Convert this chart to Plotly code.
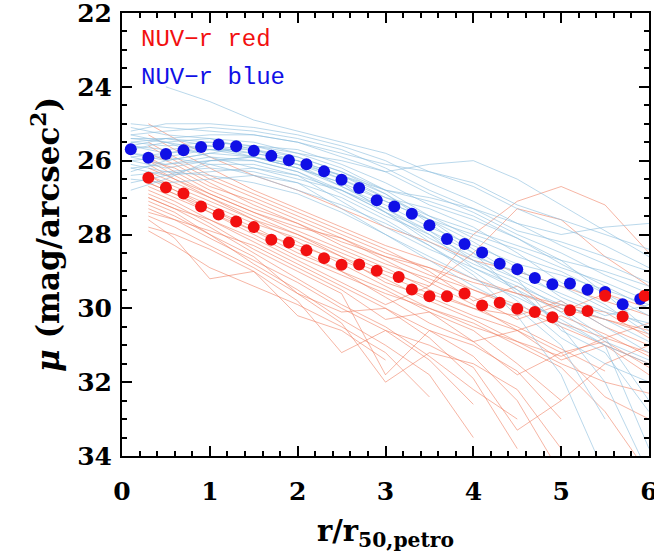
import plotly.graph_objects as go

# ---------------- median profiles (big dots) ----------------
blue_med_x = [0.1, 0.3, 0.5, 0.7, 0.9, 1.1, 1.3, 1.5, 1.7, 1.9, 2.1, 2.3, 2.5, 2.7, 2.9,
              3.1, 3.3, 3.5, 3.7, 3.9, 4.1, 4.3, 4.5, 4.7, 4.9, 5.1, 5.3, 5.5, 5.7, 5.9]
blue_med_y = [25.69, 25.92, 25.82, 25.72, 25.63, 25.56, 25.61, 25.73, 25.87, 25.99, 26.10,
              26.29, 26.52, 26.74, 27.07, 27.24, 27.44, 27.75, 28.12, 28.26, 28.49, 28.79,
              28.94, 29.18, 29.35, 29.33, 29.50, 29.56, 29.89, 29.75]

red_med_x = [0.3, 0.5, 0.7, 0.9, 1.1, 1.3, 1.5, 1.7, 1.9, 2.1, 2.3, 2.5, 2.7, 2.9, 3.15,
             3.3, 3.5, 3.7, 3.9, 4.1, 4.3, 4.5, 4.7, 4.9, 5.1, 5.3, 5.5, 5.7, 5.95]
red_med_y = [26.46, 26.73, 26.89, 27.24, 27.46, 27.65, 27.80, 28.14, 28.22, 28.43, 28.64,
             28.82, 28.81, 28.98, 29.15, 29.49, 29.67, 29.67, 29.60, 29.92, 29.85, 30.01,
             30.10, 30.24, 30.05, 30.07, 29.66, 30.22, 29.66]

# ---------------- individual galaxy profiles (thin lines) ----------------
blue_x = [0.1, 0.5, 1.0, 1.5, 2.0, 2.5, 3.0, 3.5, 4.0, 4.5, 5.0, 5.5, 6.0]
blue_profiles = [
    [None, 24.0, 24.4, 24.9, 25.2, 25.5, 25.8, 26.3, 26.6, 27.2, 27.6, 28.0, 28.4],
    [25.0, 25.1, 25.2, 25.3, 25.5, 25.8, 26.1, 26.3, 26.7, 27.3, 27.8, 28.3, 28.9],
    [25.4, 25.4, 25.5, 25.6, 25.8, 26.0, 26.3, 26.1, 26.0, 26.5, 27.2, 27.9, 28.6],
    [25.5, 25.6, 25.5, 25.6, 25.9, 26.3, 26.8, 27.0, 27.3, 27.7, 28.0, 27.8, 27.7],
    [25.6, 25.7, 25.6, 25.8, 26.0, 26.5, 27.0, 27.5, 27.9, 28.3, 28.7, 29.0, 29.4],
    [25.8, 26.0, 25.8, 25.9, 26.2, 26.7, 27.2, 27.8, 28.3, 28.8, 29.1, 29.5, 29.9],
    [26.0, 26.2, 26.0, 26.0, 26.3, 26.9, 27.5, 28.0, 28.6, 29.0, 29.4, 30.0, 30.5],
    [26.2, 26.4, 26.3, 26.2, 26.4, 27.1, 27.8, 28.4, 28.9, 29.4, 29.9, 30.3, 30.9],
    [26.5, 26.6, 26.5, 26.4, 26.6, 27.3, 28.0, 28.6, 29.2, 29.7, 30.3, 31.0, 31.5],
    [26.8, 26.5, 26.0, 25.9, 26.2, 26.6, 27.4, 28.2, 28.8, 29.3, 30.0, 30.8, 32.5],
    [25.1, 25.3, 25.4, 25.7, 26.1, 26.7, 27.3, 27.9, 28.5, 29.2, 29.8, 30.5, 31.2],
    [25.9, 25.8, 25.7, 25.8, 26.0, 26.4, 26.9, 27.7, 28.5, 29.6, 30.4, 31.0, 33.8],
    [25.4, 25.5, 25.9, 26.2, 26.5, 26.8, 27.4, 28.1, 28.7, 29.5, 30.5, 32.0, 34.5],
    [26.3, 26.0, 25.8, 25.6, 25.7, 26.1, 26.6, 27.2, 27.6, 28.1, 28.7, 29.6, 30.6],
    [25.6, 25.4, 25.3, 25.3, 25.5, 25.9, 26.3, 26.9, 27.4, 28.0, 28.5, 29.1, 29.6],
    [26.0, 25.9, 26.1, 26.4, 26.8, 27.2, 27.7, 28.3, 29.0, 29.8, 30.8, 31.5, 32.0],
    [25.7, 25.5, 25.4, 25.5, 25.8, 26.2, 26.8, 27.5, 28.1, 28.6, 29.0, 29.6, 30.2],
    [25.2, 25.0, 25.0, 25.1, 25.3, 25.6, 26.0, 26.6, 27.1, 27.7, 28.3, 28.8, 29.3],
    [26.1, 26.3, 26.4, 26.6, 26.9, 27.4, 28.0, 28.7, 29.4, 30.0, 31.0, 33.0, None],
    [25.5, 25.4, 25.6, 25.9, 26.2, 26.6, 27.1, 27.6, 28.2, 28.9, 29.7, 30.2, 29.9],
    [25.3, 25.2, 25.1, 25.2, 25.4, 25.7, 26.2, 26.8, 27.3, 27.9, 28.2, 28.6, 29.0],
    [26.4, 26.3, 26.2, 26.3, 26.6, 27.0, 27.6, 28.3, 29.1, 30.2, 31.8, 34.5, None],
    [25.8, 25.9, 25.7, 25.7, 25.9, 26.3, 26.9, 27.6, 28.0, 28.4, 28.9, 29.3, 29.8],
    [25.9, 26.1, 26.0, 25.9, 26.1, 26.5, 27.1, 27.6, 28.4, 29.1, 29.6, 30.1, 30.4],
    [25.6, 25.8, 25.6, 25.7, 26.0, 26.4, 27.0, 27.3, 27.8, 28.5, 29.3, 29.9, 30.7],
    [26.6, 26.4, 26.1, 26.1, 26.4, 26.8, 27.3, 28.0, 28.9, 29.5, 30.1, 30.9, 31.4],
    [25.3, 25.5, 25.7, 25.9, 26.1, 26.4, 26.8, 27.1, 27.5, 28.1, 28.8, 29.4, 30.0],
    [26.2, 26.1, 25.9, 26.0, 26.3, 26.8, 27.4, 27.9, 28.7, 29.2, 30.6, 31.2, 32.8],
]

red_x = [0.3, 0.6, 1.0, 1.5, 2.0, 2.5, 3.0, 3.5, 4.0, 4.5, 5.0, 5.5, 6.0]
red_profiles = [
    [25.0, 25.4, 25.9, 26.4, 26.8, 27.3, 27.8, 28.2, 28.7, 29.0, 29.4, 29.8, 30.2],
    [25.3, 25.7, 26.2, 26.8, 27.3, 27.8, 28.3, 28.7, 29.2, 29.6, 29.9, 30.3, 30.6],
    [25.8, 26.1, 26.6, 27.2, 27.7, 28.2, 28.6, 29.1, 29.5, 29.9, 30.4, 30.8, 31.2],
    [26.2, 26.5, 27.0, 27.5, 28.0, 28.6, 29.1, 29.6, 30.0, 30.5, 31.1, 31.7, None],
    [26.5, 26.8, 27.3, 27.9, 28.5, 29.0, 29.5, 30.1, 30.6, 31.5, 32.5, None, None],
    [26.8, 27.1, 27.6, 28.2, 28.8, 29.4, 30.0, 30.6, 31.3, 32.5, 34.5, None, None],
    [27.0, 27.3, 27.8, 28.5, 29.2, 29.9, 30.5, 31.3, 32.2, 33.0, None, None, None],
    [27.2, 27.5, 28.0, 28.8, 29.5, 30.3, 31.0, 31.8, 33.5, None, None, None, None],
    [27.6, 28.1, 29.2, 29.0, 30.2, 30.6, 31.4, None, None, None, None, None, None],
    [27.9, 28.3, 28.9, 29.4, 29.9, 30.5, 31.2, 32.4, None, None, None, None, None],
    [27.0, 27.3, 27.6, 28.1, 28.7, 29.3, 29.9, 29.4, 28.0, 27.1, 26.7, 27.2, 28.5],
    [26.4, 26.7, 27.1, 27.6, 28.0, 28.5, 29.0, 29.4, 28.5, 27.3, 27.6, 28.6, 29.4],
    [26.0, 26.4, 26.9, 27.4, 27.9, 28.4, 28.9, 29.5, 30.0, 30.2, 29.8, 30.5, 31.0],
    [26.7, 27.0, 27.4, 28.0, 28.6, 29.1, 29.6, 30.0, 30.5, 30.9, 31.5, 32.0, 32.3],
    [25.6, 26.0, 26.5, 27.0, 27.5, 28.0, 28.5, 28.9, 29.3, 29.6, 30.0, 30.3, 30.7],
    [27.4, 27.6, 28.1, 28.7, 29.3, 30.0, 30.6, 31.0, 31.6, 33.3, 32.5, 31.5, 31.0],
    [26.9, 27.2, 27.7, 28.4, 29.0, 29.6, 31.8, 30.6, 31.0, 31.7, 33.0, None, None],
    [27.1, 27.4, 28.0, 28.6, 29.6, 30.1, 30.0, 30.8, 31.9, 33.8, None, None, None],
    [26.1, 26.5, 26.9, 27.4, 27.8, 28.1, 28.6, 28.9, 29.5, 30.0, 30.5, 31.0, 31.5],
    [26.6, 26.9, 27.4, 27.9, 28.3, 28.7, 29.2, 29.8, 30.3, 30.9, 31.3, 30.8, 30.4],
    [27.5, 27.8, 28.3, 28.9, 29.6, 30.4, 32.0, 31.2, 31.5, 32.2, 33.8, None, None],
    [27.8, 28.0, 28.4, 29.0, 29.8, 31.2, 30.6, 31.4, 32.6, None, None, None, None],
    [26.3, 26.6, 27.0, 27.6, 28.2, 28.8, 29.4, 30.0, 30.4, 31.0, 31.6, 32.8, 34.5],
    [25.9, 26.3, 26.8, 27.3, 27.7, 28.3, 28.8, 29.2, 29.7, 30.3, 29.9, 30.1, 30.8],
    [26.4, 26.8, 27.2, 27.7, 28.1, 28.6, 29.3, 29.7, 30.2, 30.6, 30.2, 30.7, 31.3],
    [25.5, 25.9, 26.4, 26.9, 27.4, 27.9, 28.4, 29.0, 29.8, 29.4, 30.1, 29.6, 30.0],
    [27.3, 27.6, 27.9, 28.3, 28.9, 29.5, 30.3, 30.1, 30.9, 31.8, 31.2, 32.4, 33.0],
    [26.6, 26.9, 27.3, 27.8, 28.4, 29.0, 29.7, 30.4, 30.9, 30.6, 31.4, 31.0, 31.8],
    [26.0, 26.2, 26.7, 27.1, 27.6, 28.1, 28.7, 29.3, 29.9, 30.6, 31.2, 30.9, 31.6],
]

legend_labels = ["NUV\u2212r red", "NUV\u2212r blue"]

# ---------------- colours / styles ----------------
C_RED_THIN = "rgba(238,120,90,0.55)"
C_BLUE_THIN = "rgba(140,190,222,0.60)"
C_RED = "#f21010"
C_BLUE = "#1010e6"

fig = go.Figure()

for prof in red_profiles:
    fig.add_trace(go.Scatter(x=red_x, y=prof, mode="lines",
                             line=dict(color=C_RED_THIN, width=1),
                             showlegend=False, hoverinfo="skip"))
for prof in blue_profiles:
    fig.add_trace(go.Scatter(x=blue_x, y=prof, mode="lines",
                             line=dict(color=C_BLUE_THIN, width=1),
                             showlegend=False, hoverinfo="skip"))

fig.add_trace(go.Scatter(x=blue_med_x, y=blue_med_y, mode="markers",
                         marker=dict(color=C_BLUE, size=12, line=dict(width=0)),
                         name=legend_labels[1], showlegend=False))
fig.add_trace(go.Scatter(x=red_med_x, y=red_med_y, mode="markers",
                         marker=dict(color=C_RED, size=12, line=dict(width=0)),
                         name=legend_labels[0], showlegend=False))

# text labels (legend)
fig.add_annotation(x=0, xref="paper", xshift=17, y=22.72, yref="y", text=legend_labels[0],
                   showarrow=False, xanchor="left", yanchor="middle",
                   font=dict(family="Liberation Mono", size=24, color=C_RED))
fig.add_annotation(x=0, xref="paper", xshift=17, y=23.74, yref="y", text=legend_labels[1],
                   showarrow=False, xanchor="left", yanchor="middle",
                   font=dict(family="Liberation Mono", size=24, color=C_BLUE))

tickfont = dict(family="DejaVu Serif", size=25, color="black", weight="bold")

fig.update_xaxes(range=[0, 6], dtick=1, tick0=0, automargin=False,
                 showline=True, linecolor="black", linewidth=2, mirror="ticks",
                 ticks="inside", ticklen=10, tickwidth=2, tickcolor="black",
                 minor=dict(dtick=0.2, ticks="inside", ticklen=5, tickwidth=1.5,
                            tickcolor="black"),
                 showgrid=False, zeroline=False,
                 tickfont=tickfont, ticklabelstandoff=12, ticklabeloverflow="allow",
                 title=dict(text="<b>r/r<sub>50,petro</sub></b>", standoff=18,
                            font=dict(family="DejaVu Serif", size=29, color="black")))
fig.update_yaxes(range=[34, 22], dtick=2, tick0=22, automargin=False,
                 showline=True, linecolor="black", linewidth=2, mirror="ticks",
                 ticks="inside", ticklen=10, tickwidth=2, tickcolor="black",
                 minor=dict(dtick=0.5, ticks="inside", ticklen=5, tickwidth=1.5,
                            tickcolor="black"),
                 showgrid=False, zeroline=False,
                 tickfont=tickfont, ticklabelstandoff=3, ticklabeloverflow="allow",
                 title=dict(text="<b><i>\u03bc</i> (mag/arcsec<sup>2</sup>)</b>", standoff=8,
                            font=dict(family="DejaVu Serif", size=31, color="black")))

fig.update_layout(width=654, height=552,
                  margin=dict(l=122, r=5, t=13, b=96),
                  plot_bgcolor="white", paper_bgcolor="white",
                  showlegend=False)

fig.write_html("out.html")
